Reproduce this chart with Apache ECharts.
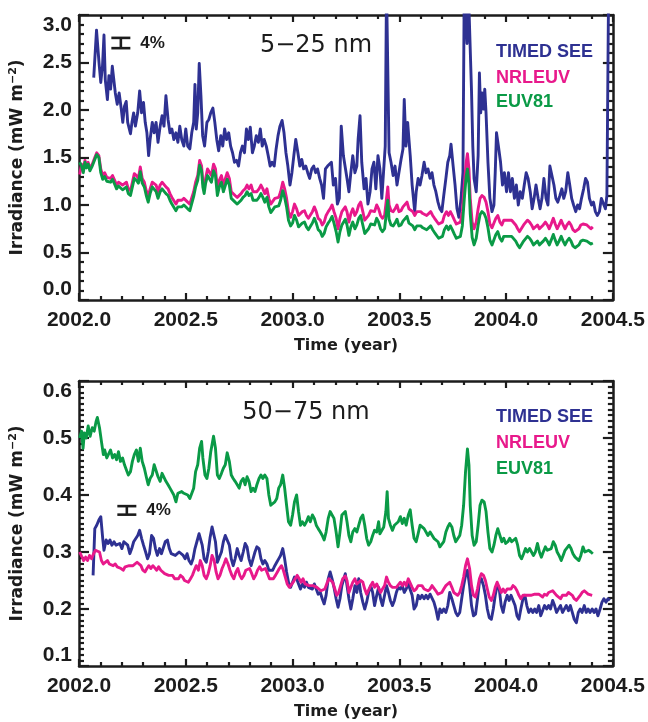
<!DOCTYPE html>
<html><head><meta charset="utf-8">
<script src="https://cdn.jsdelivr.net/npm/echarts@6/dist/echarts.min.js"></script>
<style>html,body{margin:0;padding:0;background:#fff}#chart{width:648px;height:722px}</style>
</head><body><div id="chart"></div>
<script>
// ---------------- DATA ----------------
const yearRange = [2002.0, 2004.5];
const yearStep = 0.5;
const topRange = [0.0, 3.0], topStep = 0.5;
const bottomRange = [0.1, 0.6], bottomStep = 0.1;
const seriesNames = ['TIMED SEE', 'NRLEUV', 'EUV81'];
const panelTitles = ['5\u221225 nm', '50\u221275 nm'];

// Top panel (5-25 nm): [year, irradiance]
const timedSeeTop = [
[2002.069,2.34],[2002.082,2.84],[2002.094,2.49],[2002.102,2.29],[2002.110,2.46],[2002.117,2.79],[2002.123,2.32],[2002.133,2.11],[2002.140,2.36],[2002.148,2.22],
[2002.156,2.46],[2002.164,2.48],[2002.170,2.18],[2002.179,2.06],[2002.188,2.18],[2002.198,2.01],[2002.205,1.87],[2002.213,2.04],[2002.221,2.09],[2002.228,1.87],
[2002.241,1.75],[2002.248,1.87],[2002.256,1.97],[2002.264,1.83],[2002.275,1.97],[2002.284,2.20],[2002.293,1.97],[2002.302,2.08],[2002.310,1.87],[2002.318,1.76],
[2002.326,1.52],[2002.333,1.69],[2002.343,1.87],[2002.352,1.76],[2002.361,1.87],[2002.370,1.66],[2002.380,1.83],[2002.389,1.94],[2002.398,1.83],[2002.407,2.15],
[2002.417,1.90],[2002.426,1.76],[2002.435,1.80],[2002.444,1.69],[2002.454,1.76],[2002.463,1.66],[2002.472,1.83],[2002.481,1.69],[2002.491,1.62],[2002.500,1.80],
[2002.509,1.62],[2002.519,1.59],[2002.528,1.76],[2002.537,1.87],[2002.543,2.27],[2002.549,1.80],[2002.556,1.97],[2002.563,2.49],[2002.571,2.15],[2002.579,1.73],
[2002.588,1.62],[2002.599,1.87],[2002.608,1.90],[2002.617,1.97],[2002.627,2.02],[2002.636,1.87],[2002.645,1.69],[2002.654,1.57],[2002.664,1.73],[2002.673,1.62],
[2002.682,1.80],[2002.691,1.69],[2002.701,1.76],[2002.710,1.62],[2002.719,1.55],[2002.728,1.45],[2002.738,1.47],[2002.747,1.41],[2002.756,1.55],[2002.765,1.62],
[2002.775,1.55],[2002.784,1.80],[2002.793,1.69],[2002.802,1.82],[2002.812,1.55],[2002.821,1.62],[2002.830,1.73],[2002.840,1.66],[2002.849,1.80],[2002.858,1.62],
[2002.867,1.69],[2002.877,1.62],[2002.886,1.52],[2002.895,1.41],[2002.904,1.45],[2002.914,1.41],[2002.923,1.59],[2002.932,1.73],[2002.941,1.83],[2002.951,1.89],
[2002.960,1.76],[2002.969,1.55],[2002.978,1.41],[2002.988,1.21],[2002.997,1.34],[2003.006,1.52],[2003.015,1.69],[2003.025,1.55],[2003.034,1.41],[2003.043,1.48],
[2003.052,1.38],[2003.062,1.41],[2003.071,1.34],[2003.080,1.28],[2003.090,1.38],[2003.099,1.41],[2003.108,1.34],[2003.117,1.38],[2003.127,1.28],[2003.136,1.21],
[2003.145,1.07],[2003.154,1.38],[2003.164,1.41],[2003.173,1.41],[2003.182,1.45],[2003.191,1.21],[2003.201,1.28],[2003.210,1.01],[2003.219,1.07],[2003.228,1.83],
[2003.238,1.52],[2003.247,1.52],[2003.255,1.28],[2003.264,1.14],[2003.273,1.34],[2003.282,1.52],[2003.292,1.34],[2003.301,1.41],[2003.307,1.69],[2003.316,1.94],
[2003.324,1.45],[2003.335,1.17],[2003.344,1.28],[2003.353,1.01],[2003.363,1.14],[2003.372,1.38],[2003.381,1.45],[2003.390,1.17],[2003.400,1.52],[2003.409,1.38],
[2003.418,1.07],[2003.427,1.07],[2003.434,1.62],[2003.440,3.30],[2003.446,3.30],[2003.452,1.55],[2003.461,1.45],[2003.471,1.31],[2003.480,1.41],[2003.489,1.21],
[2003.498,1.34],[2003.508,1.48],[2003.517,1.59],[2003.523,2.11],[2003.531,1.62],[2003.539,1.87],[2003.545,1.69],[2003.551,1.52],[2003.560,1.21],[2003.572,0.93],
[2003.579,1.14],[2003.588,1.28],[2003.597,1.21],[2003.606,1.31],[2003.616,1.45],[2003.625,1.34],[2003.634,1.38],[2003.644,1.28],[2003.653,1.34],[2003.662,1.21],
[2003.671,1.14],[2003.681,1.03],[2003.690,0.96],[2003.699,0.93],[2003.708,1.10],[2003.718,1.28],[2003.727,1.45],[2003.736,1.52],[2003.742,1.64],[2003.752,1.41],
[2003.761,1.21],[2003.770,0.96],[2003.779,0.87],[2003.789,1.07],[2003.798,1.34],[2003.804,3.30],[2003.812,3.30],[2003.817,2.70],[2003.823,3.30],[2003.830,3.30],
[2003.838,2.20],[2003.844,1.62],[2003.850,1.28],[2003.860,1.14],[2003.869,1.52],[2003.875,2.39],[2003.881,1.97],[2003.887,2.18],[2003.894,2.01],[2003.900,2.22],
[2003.906,1.97],[2003.915,1.45],[2003.924,1.07],[2003.934,0.93],[2003.943,1.00],[2003.949,1.34],[2003.955,1.76],[2003.964,1.62],[2003.974,1.45],[2003.983,1.21],
[2003.992,1.34],[2004.002,1.14],[2004.011,1.34],[2004.020,1.14],[2004.029,1.28],[2004.039,1.07],[2004.048,1.21],[2004.057,1.00],[2004.066,1.14],[2004.076,1.07],
[2004.085,1.21],[2004.094,1.34],[2004.103,1.28],[2004.113,1.14],[2004.122,0.96],[2004.131,1.07],[2004.140,1.21],[2004.150,1.07],[2004.159,0.96],[2004.168,1.07],
[2004.177,1.28],[2004.187,1.07],[2004.196,1.00],[2004.205,1.41],[2004.214,1.43],[2004.224,1.21],[2004.233,1.07],[2004.242,1.03],[2004.252,1.10],[2004.261,1.17],
[2004.270,1.07],[2004.279,1.14],[2004.289,1.34],[2004.298,1.21],[2004.307,1.07],[2004.316,1.00],[2004.326,0.93],[2004.335,1.00],[2004.344,0.96],[2004.353,1.07],
[2004.363,1.17],[2004.372,1.28],[2004.381,1.24],[2004.390,1.07],[2004.400,1.00],[2004.409,1.03],[2004.418,0.93],[2004.427,0.89],[2004.437,0.93],[2004.446,1.07],
[2004.455,1.08],[2004.465,0.96],[2004.472,1.10],[2004.480,3.30]
];
const nrleuvTop = [
[2002.003,1.32],[2002.012,1.43],[2002.020,1.36],[2002.028,1.47],[2002.035,1.41],[2002.043,1.45],[2002.051,1.38],[2002.062,1.43],[2002.074,1.50],[2002.083,1.55],
[2002.093,1.52],[2002.102,1.38],[2002.111,1.31],[2002.120,1.34],[2002.130,1.29],[2002.139,1.31],[2002.148,1.28],[2002.157,1.31],[2002.167,1.26],[2002.176,1.21],
[2002.185,1.24],[2002.194,1.26],[2002.204,1.21],[2002.213,1.22],[2002.222,1.24],[2002.231,1.17],[2002.241,1.15],[2002.250,1.24],[2002.259,1.33],[2002.269,1.31],
[2002.278,1.28],[2002.287,1.40],[2002.296,1.28],[2002.306,1.24],[2002.315,1.15],[2002.324,1.08],[2002.333,1.17],[2002.343,1.24],[2002.352,1.26],[2002.361,1.21],
[2002.370,1.14],[2002.380,1.21],[2002.389,1.24],[2002.398,1.22],[2002.407,1.19],[2002.417,1.17],[2002.426,1.12],[2002.435,1.08],[2002.444,1.07],[2002.454,1.01],
[2002.463,1.05],[2002.472,1.07],[2002.481,1.05],[2002.491,1.07],[2002.500,1.05],[2002.509,1.03],[2002.519,1.01],[2002.528,1.01],[2002.537,1.14],[2002.546,1.24],
[2002.556,1.31],[2002.565,1.47],[2002.574,1.41],[2002.580,1.24],[2002.586,1.17],[2002.593,1.28],[2002.602,1.38],[2002.611,1.36],[2002.620,1.31],[2002.630,1.43],
[2002.639,1.38],[2002.648,1.17],[2002.657,1.26],[2002.667,1.31],[2002.676,1.21],[2002.685,1.21],[2002.694,1.34],[2002.704,1.28],[2002.713,1.14],[2002.722,1.12],
[2002.731,1.10],[2002.741,1.08],[2002.750,1.07],[2002.759,1.12],[2002.768,1.15],[2002.778,1.17],[2002.787,1.21],[2002.796,1.17],[2002.806,1.21],[2002.815,1.14],
[2002.824,1.12],[2002.833,1.14],[2002.843,1.17],[2002.852,1.21],[2002.861,1.17],[2002.870,1.12],[2002.880,1.17],[2002.889,1.07],[2002.898,1.01],[2002.907,1.03],
[2002.917,1.07],[2002.926,1.05],[2002.935,1.08],[2002.944,1.14],[2002.954,1.24],[2002.963,1.17],[2002.972,1.07],[2002.981,0.93],[2002.991,0.87],[2003.000,0.93],
[2003.009,1.01],[2003.019,0.96],[2003.028,0.89],[2003.037,0.91],[2003.046,0.93],[2003.056,0.94],[2003.065,0.89],[2003.074,0.86],[2003.083,0.87],[2003.093,0.93],
[2003.102,0.98],[2003.111,0.93],[2003.120,0.86],[2003.130,0.84],[2003.139,0.79],[2003.148,0.82],[2003.157,0.89],[2003.167,0.93],[2003.176,0.96],[2003.185,1.00],
[2003.194,0.93],[2003.204,0.86],[2003.213,0.75],[2003.222,0.86],[2003.231,0.93],[2003.247,0.98],[2003.255,0.93],[2003.264,0.82],[2003.273,0.91],[2003.282,0.96],
[2003.292,0.89],[2003.301,0.93],[2003.310,1.00],[2003.319,1.03],[2003.329,0.93],[2003.338,0.84],[2003.347,0.82],[2003.356,0.89],[2003.366,0.94],[2003.375,0.96],
[2003.384,0.93],[2003.394,1.00],[2003.403,0.96],[2003.412,0.89],[2003.421,0.86],[2003.431,0.89],[2003.440,1.07],[2003.446,1.19],[2003.452,1.00],[2003.461,0.94],
[2003.471,0.93],[2003.480,0.96],[2003.489,1.00],[2003.498,0.93],[2003.508,0.94],[2003.517,0.98],[2003.526,1.00],[2003.536,1.03],[2003.545,0.96],[2003.554,0.98],
[2003.563,0.93],[2003.572,0.89],[2003.582,0.93],[2003.591,0.94],[2003.600,0.93],[2003.610,0.91],[2003.619,0.93],[2003.628,0.89],[2003.637,0.87],[2003.647,0.93],
[2003.656,0.89],[2003.665,0.86],[2003.674,0.84],[2003.684,0.80],[2003.693,0.79],[2003.702,0.82],[2003.711,0.89],[2003.721,0.93],[2003.730,0.89],[2003.739,0.93],
[2003.748,0.89],[2003.758,0.84],[2003.767,0.80],[2003.776,0.79],[2003.786,0.82],[2003.795,0.93],[2003.804,1.21],[2003.813,1.45],[2003.819,1.54],[2003.826,1.38],
[2003.832,1.07],[2003.841,0.82],[2003.850,0.75],[2003.860,0.82],[2003.869,0.96],[2003.878,1.07],[2003.887,1.10],[2003.897,1.08],[2003.906,1.03],[2003.915,0.93],
[2003.924,0.80],[2003.934,0.76],[2003.943,0.77],[2003.952,0.86],[2003.961,0.89],[2003.971,0.82],[2003.980,0.79],[2003.989,0.84],[2003.998,0.82],[2004.008,0.84],
[2004.017,0.82],[2004.026,0.84],[2004.035,0.82],[2004.045,0.79],[2004.054,0.75],[2004.063,0.72],[2004.072,0.74],[2004.082,0.79],[2004.091,0.80],[2004.100,0.84],
[2004.110,0.82],[2004.119,0.79],[2004.128,0.75],[2004.137,0.77],[2004.147,0.79],[2004.156,0.75],[2004.165,0.74],[2004.174,0.79],[2004.184,0.82],[2004.193,0.79],
[2004.202,0.75],[2004.211,0.80],[2004.221,0.86],[2004.230,0.80],[2004.239,0.75],[2004.248,0.79],[2004.258,0.84],[2004.267,0.79],[2004.276,0.75],[2004.285,0.79],
[2004.295,0.82],[2004.304,0.79],[2004.313,0.74],[2004.323,0.72],[2004.332,0.70],[2004.341,0.75],[2004.350,0.79],[2004.360,0.80],[2004.369,0.82],[2004.378,0.79],
[2004.387,0.77],[2004.397,0.75],[2004.406,0.77]
];
const euv81Top = [
[2002.003,1.45],[2002.012,1.41],[2002.020,1.34],[2002.028,1.45],[2002.035,1.39],[2002.043,1.43],[2002.051,1.36],[2002.062,1.41],[2002.074,1.48],[2002.083,1.53],
[2002.093,1.50],[2002.102,1.34],[2002.111,1.27],[2002.120,1.30],[2002.130,1.25],[2002.139,1.27],[2002.148,1.24],[2002.157,1.27],[2002.167,1.22],[2002.176,1.17],
[2002.185,1.20],[2002.194,1.22],[2002.204,1.16],[2002.213,1.17],[2002.222,1.19],[2002.231,1.12],[2002.241,1.10],[2002.250,1.19],[2002.259,1.28],[2002.269,1.26],
[2002.278,1.23],[2002.287,1.35],[2002.296,1.23],[2002.306,1.19],[2002.315,1.10],[2002.324,1.03],[2002.333,1.12],[2002.343,1.19],[2002.352,1.19],[2002.361,1.14],
[2002.370,1.07],[2002.380,1.14],[2002.389,1.17],[2002.398,1.15],[2002.407,1.12],[2002.417,1.10],[2002.426,1.05],[2002.435,1.01],[2002.444,1.00],[2002.454,0.94],
[2002.463,0.98],[2002.472,1.00],[2002.481,0.98],[2002.491,1.00],[2002.500,0.98],[2002.509,0.96],[2002.519,0.94],[2002.528,0.94],[2002.537,1.09],[2002.546,1.19],
[2002.556,1.26],[2002.565,1.42],[2002.574,1.36],[2002.580,1.19],[2002.586,1.12],[2002.593,1.23],[2002.602,1.31],[2002.611,1.29],[2002.620,1.24],[2002.630,1.36],
[2002.639,1.31],[2002.648,1.10],[2002.657,1.19],[2002.667,1.24],[2002.676,1.14],[2002.685,1.14],[2002.694,1.27],[2002.704,1.21],[2002.713,1.07],[2002.722,1.05],
[2002.731,1.03],[2002.741,1.01],[2002.750,1.00],[2002.759,1.05],[2002.768,1.08],[2002.778,1.10],[2002.787,1.14],[2002.796,1.10],[2002.806,1.12],[2002.815,1.05],
[2002.824,1.03],[2002.833,1.05],[2002.843,1.08],[2002.852,1.12],[2002.861,1.08],[2002.870,1.03],[2002.880,1.08],[2002.889,0.98],[2002.898,0.92],[2002.907,0.94],
[2002.917,0.98],[2002.926,0.96],[2002.935,0.99],[2002.944,1.05],[2002.954,1.15],[2002.963,1.08],[2002.972,0.98],[2002.981,0.84],[2002.991,0.78],[2003.000,0.81],
[2003.009,0.89],[2003.019,0.84],[2003.028,0.77],[2003.037,0.79],[2003.046,0.81],[2003.056,0.82],[2003.065,0.77],[2003.074,0.74],[2003.083,0.75],[2003.093,0.81],
[2003.102,0.86],[2003.111,0.81],[2003.120,0.74],[2003.130,0.72],[2003.139,0.67],[2003.148,0.70],[2003.157,0.77],[2003.167,0.81],[2003.176,0.84],[2003.185,0.88],
[2003.194,0.81],[2003.204,0.72],[2003.213,0.61],[2003.222,0.72],[2003.231,0.79],[2003.247,0.85],[2003.255,0.79],[2003.264,0.68],[2003.273,0.77],[2003.282,0.82],
[2003.292,0.75],[2003.301,0.79],[2003.310,0.86],[2003.319,0.89],[2003.329,0.79],[2003.338,0.70],[2003.347,0.68],[2003.356,0.75],[2003.366,0.80],[2003.375,0.82],
[2003.384,0.79],[2003.394,0.86],[2003.403,0.82],[2003.412,0.75],[2003.421,0.72],[2003.431,0.75],[2003.440,0.93],[2003.446,1.05],[2003.452,0.85],[2003.461,0.79],
[2003.471,0.78],[2003.480,0.81],[2003.489,0.85],[2003.498,0.78],[2003.508,0.79],[2003.517,0.83],[2003.526,0.85],[2003.536,0.88],[2003.545,0.81],[2003.554,0.83],
[2003.563,0.78],[2003.572,0.74],[2003.582,0.78],[2003.591,0.79],[2003.600,0.78],[2003.610,0.76],[2003.619,0.78],[2003.628,0.74],[2003.637,0.72],[2003.647,0.78],
[2003.656,0.74],[2003.665,0.71],[2003.674,0.69],[2003.684,0.65],[2003.693,0.64],[2003.702,0.67],[2003.711,0.74],[2003.721,0.78],[2003.730,0.74],[2003.739,0.78],
[2003.748,0.74],[2003.758,0.69],[2003.767,0.65],[2003.776,0.64],[2003.786,0.67],[2003.795,0.78],[2003.804,1.06],[2003.813,1.30],[2003.819,1.38],[2003.826,1.22],
[2003.832,0.91],[2003.841,0.66],[2003.850,0.58],[2003.860,0.65],[2003.869,0.79],[2003.878,0.90],[2003.887,0.93],[2003.897,0.91],[2003.906,0.86],[2003.915,0.76],
[2003.924,0.63],[2003.934,0.58],[2003.943,0.60],[2003.952,0.69],[2003.961,0.72],[2003.971,0.65],[2003.980,0.62],[2003.989,0.67],[2003.998,0.65],[2004.008,0.67],
[2004.017,0.65],[2004.026,0.67],[2004.035,0.65],[2004.045,0.62],[2004.054,0.58],[2004.063,0.55],[2004.072,0.57],[2004.082,0.62],[2004.091,0.63],[2004.100,0.67],
[2004.110,0.65],[2004.119,0.62],[2004.128,0.58],[2004.137,0.60],[2004.147,0.62],[2004.156,0.58],[2004.165,0.57],[2004.174,0.62],[2004.184,0.65],[2004.193,0.62],
[2004.202,0.58],[2004.211,0.63],[2004.221,0.69],[2004.230,0.63],[2004.239,0.58],[2004.248,0.62],[2004.258,0.67],[2004.267,0.62],[2004.276,0.58],[2004.285,0.62],
[2004.295,0.65],[2004.304,0.62],[2004.313,0.57],[2004.323,0.55],[2004.332,0.53],[2004.341,0.58],[2004.350,0.62],[2004.360,0.63],[2004.369,0.65],[2004.378,0.62],
[2004.387,0.60],[2004.397,0.59],[2004.406,0.60]
];

// Bottom panel (50-75 nm): [year, irradiance]
const timedSeeBottom = [
[2002.066,0.259],[2002.074,0.341],[2002.083,0.347],[2002.093,0.356],[2002.102,0.362],[2002.111,0.324],[2002.117,0.303],[2002.127,0.321],[2002.136,0.315],[2002.145,0.321],
[2002.154,0.312],[2002.164,0.318],[2002.173,0.312],[2002.182,0.309],[2002.191,0.315],[2002.201,0.306],[2002.210,0.318],[2002.219,0.321],[2002.228,0.312],[2002.238,0.297],
[2002.247,0.306],[2002.256,0.318],[2002.265,0.321],[2002.275,0.329],[2002.284,0.338],[2002.293,0.324],[2002.302,0.312],[2002.312,0.300],[2002.321,0.288],[2002.330,0.297],
[2002.340,0.329],[2002.349,0.324],[2002.358,0.306],[2002.367,0.294],[2002.377,0.306],[2002.386,0.297],[2002.395,0.300],[2002.404,0.318],[2002.414,0.321],[2002.423,0.306],
[2002.432,0.297],[2002.441,0.300],[2002.451,0.294],[2002.460,0.297],[2002.469,0.300],[2002.478,0.297],[2002.488,0.294],[2002.497,0.288],[2002.506,0.297],[2002.515,0.285],
[2002.525,0.279],[2002.534,0.288],[2002.543,0.306],[2002.552,0.318],[2002.562,0.332],[2002.571,0.335],[2002.577,0.312],[2002.586,0.288],[2002.596,0.282],[2002.605,0.300],
[2002.614,0.326],[2002.623,0.344],[2002.630,0.347],[2002.639,0.318],[2002.648,0.282],[2002.657,0.279],[2002.667,0.300],[2002.676,0.318],[2002.685,0.329],[2002.694,0.332],
[2002.704,0.312],[2002.713,0.288],[2002.722,0.276],[2002.731,0.288],[2002.741,0.306],[2002.750,0.294],[2002.759,0.285],[2002.769,0.300],[2002.778,0.315],[2002.787,0.309],
[2002.796,0.288],[2002.806,0.276],[2002.815,0.288],[2002.824,0.300],[2002.833,0.309],[2002.843,0.306],[2002.852,0.288],[2002.861,0.279],[2002.870,0.285],[2002.880,0.279],
[2002.889,0.268],[2002.898,0.265],[2002.907,0.268],[2002.917,0.276],[2002.926,0.282],[2002.935,0.288],[2002.944,0.294],[2002.954,0.306],[2002.963,0.288],[2002.972,0.265],
[2002.981,0.247],[2002.991,0.238],[2003.000,0.247],[2003.009,0.256],[2003.019,0.253],[2003.028,0.244],[2003.037,0.235],[2003.046,0.244],[2003.056,0.238],[2003.065,0.247],
[2003.074,0.238],[2003.083,0.241],[2003.093,0.235],[2003.102,0.244],[2003.111,0.235],[2003.120,0.226],[2003.130,0.229],[2003.139,0.218],[2003.148,0.209],[2003.157,0.224],
[2003.167,0.253],[2003.176,0.265],[2003.185,0.253],[2003.194,0.238],[2003.204,0.218],[2003.213,0.203],[2003.222,0.218],[2003.231,0.241],[2003.247,0.262],[2003.255,0.241],
[2003.264,0.218],[2003.273,0.200],[2003.282,0.218],[2003.292,0.241],[2003.301,0.229],[2003.310,0.253],[2003.319,0.229],[2003.329,0.212],[2003.338,0.200],[2003.347,0.212],
[2003.356,0.229],[2003.366,0.241],[2003.375,0.229],[2003.384,0.206],[2003.394,0.224],[2003.403,0.238],[2003.412,0.218],[2003.421,0.206],[2003.431,0.224],[2003.440,0.241],
[2003.449,0.229],[2003.458,0.215],[2003.468,0.206],[2003.477,0.215],[2003.486,0.229],[2003.495,0.238],[2003.505,0.235],[2003.514,0.241],[2003.523,0.229],[2003.532,0.235],
[2003.542,0.244],[2003.551,0.241],[2003.560,0.224],[2003.569,0.200],[2003.579,0.206],[2003.588,0.224],[2003.597,0.218],[2003.606,0.224],[2003.616,0.218],[2003.625,0.224],
[2003.634,0.218],[2003.644,0.226],[2003.653,0.229],[2003.662,0.212],[2003.671,0.200],[2003.681,0.182],[2003.690,0.200],[2003.699,0.194],[2003.708,0.200],[2003.718,0.194],
[2003.727,0.206],[2003.736,0.229],[2003.746,0.218],[2003.755,0.206],[2003.764,0.194],[2003.773,0.188],[2003.783,0.194],[2003.792,0.218],[2003.801,0.241],[2003.810,0.259],
[2003.819,0.268],[2003.829,0.241],[2003.838,0.206],[2003.847,0.188],[2003.857,0.191],[2003.866,0.218],[2003.875,0.247],[2003.884,0.253],[2003.894,0.241],[2003.903,0.224],
[2003.912,0.200],[2003.921,0.185],[2003.931,0.182],[2003.940,0.200],[2003.949,0.224],[2003.958,0.241],[2003.968,0.235],[2003.977,0.206],[2003.986,0.194],[2003.995,0.212],
[2004.005,0.224],[2004.014,0.215],[2004.023,0.224],[2004.032,0.224],[2004.042,0.206],[2004.051,0.188],[2004.060,0.182],[2004.069,0.200],[2004.079,0.218],[2004.088,0.224],
[2004.097,0.206],[2004.106,0.194],[2004.116,0.200],[2004.125,0.194],[2004.134,0.200],[2004.143,0.194],[2004.153,0.206],[2004.162,0.188],[2004.171,0.185],[2004.180,0.206],
[2004.190,0.200],[2004.199,0.206],[2004.208,0.200],[2004.218,0.215],[2004.227,0.206],[2004.236,0.194],[2004.245,0.200],[2004.255,0.206],[2004.264,0.194],[2004.273,0.200],
[2004.282,0.206],[2004.292,0.197],[2004.301,0.206],[2004.310,0.194],[2004.319,0.182],[2004.329,0.176],[2004.338,0.194],[2004.347,0.200],[2004.356,0.194],[2004.366,0.206],
[2004.375,0.194],[2004.384,0.200],[2004.393,0.194],[2004.403,0.200],[2004.412,0.194],[2004.421,0.200],[2004.430,0.188],[2004.440,0.200],[2004.449,0.212],[2004.458,0.218],
[2004.468,0.212],[2004.477,0.218],[2004.486,0.215]
];
const nrleuvBottom = [
[2002.003,0.300],[2002.012,0.297],[2002.022,0.285],[2002.031,0.291],[2002.040,0.285],[2002.049,0.294],[2002.059,0.288],[2002.068,0.297],[2002.077,0.303],[2002.086,0.306],
[2002.096,0.300],[2002.105,0.285],[2002.114,0.279],[2002.123,0.282],[2002.133,0.285],[2002.142,0.279],[2002.151,0.282],[2002.160,0.276],[2002.170,0.279],[2002.179,0.274],
[2002.188,0.276],[2002.197,0.271],[2002.207,0.268],[2002.216,0.274],[2002.225,0.271],[2002.235,0.276],[2002.244,0.279],[2002.253,0.276],[2002.262,0.279],[2002.272,0.282],
[2002.281,0.285],[2002.290,0.276],[2002.299,0.268],[2002.309,0.265],[2002.318,0.271],[2002.327,0.276],[2002.336,0.271],[2002.346,0.276],[2002.355,0.274],[2002.364,0.268],
[2002.373,0.274],[2002.383,0.268],[2002.392,0.265],[2002.401,0.262],[2002.410,0.265],[2002.420,0.259],[2002.429,0.256],[2002.438,0.259],[2002.448,0.253],[2002.457,0.256],
[2002.466,0.253],[2002.475,0.259],[2002.485,0.256],[2002.494,0.250],[2002.503,0.253],[2002.512,0.247],[2002.522,0.253],[2002.531,0.259],[2002.540,0.268],[2002.549,0.276],
[2002.559,0.268],[2002.568,0.285],[2002.577,0.276],[2002.586,0.259],[2002.596,0.253],[2002.605,0.262],[2002.614,0.276],[2002.623,0.294],[2002.633,0.285],[2002.642,0.265],
[2002.651,0.253],[2002.660,0.259],[2002.670,0.271],[2002.679,0.279],[2002.688,0.288],[2002.698,0.279],[2002.707,0.268],[2002.716,0.259],[2002.725,0.253],[2002.735,0.265],
[2002.744,0.271],[2002.753,0.259],[2002.762,0.253],[2002.772,0.259],[2002.781,0.268],[2002.790,0.265],[2002.799,0.271],[2002.809,0.262],[2002.818,0.253],[2002.827,0.259],
[2002.836,0.268],[2002.846,0.274],[2002.855,0.268],[2002.864,0.265],[2002.873,0.271],[2002.883,0.262],[2002.892,0.253],[2002.901,0.250],[2002.910,0.253],[2002.920,0.259],
[2002.929,0.265],[2002.938,0.271],[2002.948,0.276],[2002.957,0.268],[2002.966,0.256],[2002.975,0.244],[2002.985,0.238],[2002.994,0.241],[2003.003,0.247],[2003.012,0.253],
[2003.022,0.259],[2003.031,0.253],[2003.040,0.247],[2003.049,0.253],[2003.059,0.244],[2003.068,0.247],[2003.077,0.241],[2003.086,0.244],[2003.096,0.241],[2003.105,0.244],
[2003.114,0.238],[2003.123,0.235],[2003.133,0.232],[2003.142,0.229],[2003.151,0.235],[2003.160,0.244],[2003.170,0.253],[2003.179,0.256],[2003.188,0.247],[2003.198,0.235],
[2003.207,0.224],[2003.216,0.229],[2003.225,0.241],[2003.235,0.253],[2003.247,0.258],[2003.255,0.250],[2003.264,0.229],[2003.273,0.238],[2003.282,0.247],[2003.292,0.253],
[2003.301,0.244],[2003.310,0.241],[2003.319,0.250],[2003.329,0.247],[2003.338,0.235],[2003.347,0.226],[2003.356,0.229],[2003.366,0.241],[2003.375,0.247],[2003.384,0.238],
[2003.394,0.244],[2003.403,0.241],[2003.412,0.229],[2003.421,0.235],[2003.431,0.241],[2003.440,0.256],[2003.449,0.247],[2003.458,0.241],[2003.468,0.238],[2003.477,0.241],
[2003.486,0.238],[2003.495,0.235],[2003.505,0.247],[2003.514,0.241],[2003.523,0.247],[2003.532,0.241],[2003.542,0.253],[2003.551,0.250],[2003.560,0.238],[2003.569,0.232],
[2003.579,0.235],[2003.588,0.241],[2003.597,0.238],[2003.606,0.241],[2003.616,0.235],[2003.625,0.238],[2003.634,0.232],[2003.644,0.235],[2003.653,0.241],[2003.662,0.238],
[2003.671,0.232],[2003.681,0.226],[2003.690,0.226],[2003.699,0.229],[2003.708,0.235],[2003.718,0.241],[2003.727,0.244],[2003.736,0.247],[2003.746,0.238],[2003.755,0.229],
[2003.764,0.226],[2003.773,0.224],[2003.783,0.229],[2003.792,0.241],[2003.801,0.256],[2003.810,0.276],[2003.819,0.288],[2003.829,0.271],[2003.838,0.241],[2003.847,0.224],
[2003.857,0.221],[2003.866,0.235],[2003.875,0.253],[2003.884,0.262],[2003.894,0.259],[2003.903,0.250],[2003.912,0.235],[2003.921,0.221],[2003.931,0.215],[2003.940,0.224],
[2003.949,0.238],[2003.958,0.247],[2003.968,0.238],[2003.977,0.229],[2003.986,0.235],[2003.995,0.229],[2004.005,0.235],[2004.014,0.238],[2004.023,0.235],[2004.032,0.241],
[2004.042,0.238],[2004.051,0.232],[2004.060,0.224],[2004.069,0.218],[2004.079,0.224],[2004.088,0.226],[2004.097,0.224],[2004.106,0.226],[2004.116,0.224],[2004.125,0.221],
[2004.134,0.226],[2004.143,0.224],[2004.153,0.226],[2004.162,0.224],[2004.171,0.221],[2004.180,0.226],[2004.190,0.224],[2004.199,0.229],[2004.208,0.226],[2004.218,0.232],
[2004.227,0.229],[2004.236,0.224],[2004.245,0.221],[2004.255,0.218],[2004.264,0.224],[2004.273,0.226],[2004.282,0.224],[2004.292,0.229],[2004.301,0.226],[2004.310,0.224],
[2004.319,0.218],[2004.329,0.215],[2004.338,0.218],[2004.347,0.224],[2004.356,0.229],[2004.366,0.232],[2004.375,0.229],[2004.384,0.226],[2004.393,0.226],[2004.403,0.224]
];
const euv81Bottom = [
[2002.003,0.500],[2002.012,0.512],[2002.019,0.482],[2002.025,0.509],[2002.034,0.500],[2002.043,0.521],[2002.052,0.503],[2002.062,0.518],[2002.071,0.512],[2002.080,0.529],
[2002.086,0.536],[2002.096,0.518],[2002.105,0.494],[2002.114,0.471],[2002.120,0.479],[2002.130,0.465],[2002.139,0.468],[2002.148,0.479],[2002.157,0.465],[2002.167,0.471],
[2002.176,0.462],[2002.185,0.476],[2002.194,0.459],[2002.204,0.465],[2002.213,0.453],[2002.222,0.444],[2002.231,0.435],[2002.241,0.441],[2002.250,0.459],[2002.259,0.471],
[2002.269,0.479],[2002.278,0.459],[2002.287,0.482],[2002.296,0.459],[2002.306,0.447],[2002.315,0.432],[2002.324,0.418],[2002.333,0.429],[2002.343,0.435],[2002.352,0.453],
[2002.361,0.450],[2002.370,0.432],[2002.380,0.424],[2002.389,0.438],[2002.398,0.435],[2002.407,0.424],[2002.417,0.418],[2002.426,0.412],[2002.435,0.409],[2002.444,0.400],
[2002.454,0.388],[2002.463,0.403],[2002.472,0.400],[2002.481,0.406],[2002.491,0.403],[2002.500,0.406],[2002.509,0.400],[2002.519,0.394],[2002.528,0.397],[2002.537,0.412],
[2002.546,0.441],[2002.556,0.453],[2002.565,0.482],[2002.574,0.494],[2002.580,0.465],[2002.590,0.435],[2002.599,0.429],[2002.608,0.447],[2002.617,0.476],[2002.630,0.503],
[2002.639,0.482],[2002.648,0.435],[2002.657,0.429],[2002.667,0.438],[2002.676,0.447],[2002.685,0.453],[2002.694,0.474],[2002.704,0.459],[2002.713,0.435],[2002.722,0.429],
[2002.731,0.424],[2002.741,0.418],[2002.750,0.412],[2002.759,0.424],[2002.769,0.429],[2002.778,0.418],[2002.787,0.432],[2002.796,0.424],[2002.806,0.406],[2002.815,0.412],
[2002.824,0.406],[2002.833,0.418],[2002.843,0.429],[2002.852,0.435],[2002.861,0.429],[2002.870,0.435],[2002.880,0.429],[2002.889,0.400],[2002.898,0.382],[2002.907,0.385],
[2002.917,0.388],[2002.926,0.394],[2002.935,0.412],[2002.944,0.418],[2002.954,0.435],[2002.963,0.412],[2002.972,0.382],[2002.981,0.353],[2002.991,0.347],[2003.000,0.365],
[2003.009,0.388],[2003.019,0.400],[2003.028,0.371],[2003.037,0.347],[2003.046,0.353],[2003.056,0.347],[2003.065,0.353],[2003.074,0.362],[2003.083,0.353],[2003.093,0.365],
[2003.102,0.359],[2003.111,0.347],[2003.120,0.341],[2003.130,0.335],[2003.139,0.329],[2003.148,0.321],[2003.157,0.335],[2003.167,0.359],[2003.176,0.371],[2003.185,0.365],
[2003.194,0.359],[2003.204,0.335],[2003.213,0.309],[2003.222,0.335],[2003.231,0.365],[2003.247,0.371],[2003.255,0.353],[2003.264,0.329],[2003.273,0.318],[2003.282,0.335],
[2003.292,0.341],[2003.301,0.335],[2003.310,0.347],[2003.319,0.359],[2003.329,0.365],[2003.338,0.347],[2003.347,0.324],[2003.356,0.312],[2003.366,0.318],[2003.375,0.329],
[2003.384,0.338],[2003.394,0.335],[2003.403,0.353],[2003.409,0.332],[2003.418,0.335],[2003.427,0.344],[2003.437,0.371],[2003.443,0.406],[2003.449,0.359],[2003.458,0.347],
[2003.468,0.338],[2003.477,0.347],[2003.486,0.344],[2003.495,0.353],[2003.505,0.362],[2003.514,0.350],[2003.523,0.359],[2003.532,0.347],[2003.542,0.365],[2003.551,0.374],
[2003.560,0.347],[2003.569,0.324],[2003.579,0.318],[2003.588,0.332],[2003.597,0.347],[2003.606,0.350],[2003.616,0.341],[2003.625,0.344],[2003.634,0.329],[2003.644,0.335],
[2003.653,0.332],[2003.662,0.324],[2003.671,0.324],[2003.681,0.318],[2003.690,0.309],[2003.699,0.306],[2003.708,0.318],[2003.718,0.335],[2003.727,0.344],[2003.736,0.350],
[2003.746,0.344],[2003.755,0.329],[2003.764,0.318],[2003.773,0.315],[2003.783,0.329],[2003.792,0.347],[2003.801,0.382],[2003.810,0.441],[2003.819,0.481],[2003.826,0.453],
[2003.832,0.382],[2003.841,0.329],[2003.850,0.312],[2003.860,0.318],[2003.869,0.347],[2003.878,0.382],[2003.887,0.391],[2003.897,0.388],[2003.906,0.371],[2003.915,0.335],
[2003.924,0.306],[2003.934,0.300],[2003.943,0.312],[2003.952,0.329],[2003.961,0.341],[2003.971,0.329],[2003.980,0.318],[2003.989,0.324],[2003.998,0.315],[2004.008,0.318],
[2004.017,0.324],[2004.026,0.318],[2004.035,0.315],[2004.045,0.324],[2004.054,0.312],[2004.063,0.294],[2004.072,0.288],[2004.082,0.297],[2004.091,0.306],[2004.100,0.300],
[2004.110,0.306],[2004.119,0.300],[2004.128,0.294],[2004.137,0.300],[2004.147,0.315],[2004.156,0.300],[2004.165,0.291],[2004.174,0.300],[2004.184,0.309],[2004.193,0.303],
[2004.202,0.300],[2004.211,0.306],[2004.221,0.318],[2004.230,0.312],[2004.239,0.300],[2004.248,0.294],[2004.258,0.285],[2004.267,0.294],[2004.276,0.303],[2004.285,0.300],
[2004.295,0.312],[2004.304,0.306],[2004.313,0.297],[2004.323,0.291],[2004.332,0.288],[2004.341,0.285],[2004.350,0.294],[2004.360,0.309],[2004.369,0.300],[2004.378,0.297],
[2004.387,0.303],[2004.397,0.300],[2004.406,0.297]
];

// 4% uncertainty markers: [year, irradiance, percent]
const errorBarTop = [[2002.196, 2.705, 4]];
const errorBarBottom = [[2002.224, 0.373, 4]];

// ---------------- STYLE ----------------
const INK = '#1c1c1c';
const COLORS = ['#2e3192', '#e8198b', '#0a9a46'];
const TICK_FONT = 'Liberation Sans';
const NAME_FONT = 'DejaVu Sans';

function xAxisPair(g) {
  const common = {
    gridIndex: g, type: 'value', min: yearRange[0], max: yearRange[1], interval: yearStep,
    axisLine: { show: true, onZero: false, lineStyle: { color: INK, width: 2.5 } },
    axisTick: { show: true, inside: true, length: 7, lineStyle: { color: INK, width: 2.2 } },
    minorTick: { show: true, splitNumber: 5, length: 4, lineStyle: { color: INK, width: 2.2 } },
    splitLine: { show: false }, minorSplitLine: { show: false }
  };
  return [
    Object.assign({}, common, {
      position: 'bottom',
      axisLabel: { show: true, margin: 10, formatter: v => v.toFixed(1), color: INK,
        fontFamily: TICK_FONT, fontWeight: 'bold', fontSize: 21 },
      name: 'Time (year)', nameLocation: 'middle', nameGap: 38,
      nameTextStyle: { color: INK, fontFamily: NAME_FONT, fontWeight: 'bold', fontSize: 16 }
    }),
    Object.assign({}, common, { position: 'top', axisLabel: { show: false } })
  ];
}
function yAxisPair(g, range, step, minorSplit) {
  const common = {
    gridIndex: g, type: 'value', min: range[0], max: range[1], interval: step,
    axisLine: { show: true, onZero: false, lineStyle: { color: INK, width: 2.5 } },
    axisTick: { show: true, inside: true, length: 10, lineStyle: { color: INK, width: 2.2 } },
    minorTick: { show: true, splitNumber: minorSplit, length: 5, lineStyle: { color: INK, width: 2.2 } },
    splitLine: { show: false }, minorSplitLine: { show: false }
  };
  return [
    Object.assign({}, common, {
      position: 'left',
      axisLabel: { show: true, margin: 7, formatter: v => v.toFixed(1), color: INK,
        fontFamily: TICK_FONT, fontWeight: 'bold', fontSize: 21,
        verticalAlignMaxLabel: 'top', verticalAlignMinLabel: 'bottom' },
      name: 'Irradiance (mW m{sup|\u22122})', nameLocation: 'middle', nameGap: 52,
      nameTextStyle: { color: INK, fontFamily: NAME_FONT, fontWeight: 'bold', fontSize: 17,
        rich: { sup: { fontFamily: NAME_FONT, fontWeight: 'bold', fontSize: 11, color: INK, verticalAlign: 'top', padding: [0, 0, 8, 0] } } }
    }),
    Object.assign({}, common, { position: 'right', axisLabel: { show: false } })
  ];
}

function lineSeries(name, data, xi, yi, color) {
  return { name, type: 'line', xAxisIndex: xi, yAxisIndex: yi, data,
    showSymbol: false, symbol: 'none', clip: true, animation: false,
    lineStyle: { color, width: 2.9, join: 'round' }, itemStyle: { color } };
}
function errorSeries(data, xi, yi) {
  return {
    type: 'custom', xAxisIndex: xi, yAxisIndex: yi, data, silent: true, animation: false, z: 5,
    renderItem: (params, api) => {
      const x = api.value(0), v = api.value(1), p = api.value(2) / 100;
      const hi = api.coord([x, v * (1 + p / 2)]);
      const lo = api.coord([x, v * (1 - p / 2)]);
      const hw = 9.5;
      const st = { stroke: INK, lineWidth: 2.6 };
      return { type: 'group', children: [
        { type: 'line', shape: { x1: hi[0] - hw, y1: hi[1], x2: hi[0] + hw, y2: hi[1] }, style: st },
        { type: 'line', shape: { x1: lo[0] - hw, y1: lo[1], x2: lo[0] + hw, y2: lo[1] }, style: st },
        { type: 'line', shape: { x1: hi[0], y1: hi[1], x2: lo[0], y2: lo[1] }, style: st },
        { type: 'text', x: hi[0] + hw + 10, y: (hi[1] + lo[1]) / 2,
          style: { text: api.value(2) + '%', fill: INK, font: 'bold 17px "Liberation Sans"', textAlign: 'left', textVerticalAlign: 'middle' } }
      ] };
    }
  };
}

function label(text, x, y, color, font, align) {
  return { type: 'text', x, y, silent: true,
    style: { text, fill: color, font, textAlign: align || 'left', textVerticalAlign: 'middle' } };
}

const chart = echarts.init(document.getElementById('chart'), null, { renderer: 'canvas' });
const xa0 = xAxisPair(0), xa1 = xAxisPair(1);
const ya0 = yAxisPair(0, topRange, topStep, 5), ya1 = yAxisPair(1, bottomRange, bottomStep, 10);

chart.setOption({
  animation: false,
  backgroundColor: '#ffffff',
  grid: [
    { left: 79, right: 35, top: 15, height: 285 },
    { left: 79, right: 35, top: 381, height: 285 }
  ],
  xAxis: [xa0[0], xa0[1], xa1[0], xa1[1]],
  yAxis: [ya0[0], ya0[1], ya1[0], ya1[1]],
  series: [
    lineSeries(seriesNames[0], timedSeeTop, 0, 0, COLORS[0]),
    lineSeries(seriesNames[1], nrleuvTop, 0, 0, COLORS[1]),
    lineSeries(seriesNames[2], euv81Top, 0, 0, COLORS[2]),
    errorSeries(errorBarTop, 0, 0),
    lineSeries(seriesNames[0], timedSeeBottom, 2, 2, COLORS[0]),
    lineSeries(seriesNames[1], nrleuvBottom, 2, 2, COLORS[1]),
    lineSeries(seriesNames[2], euv81Bottom, 2, 2, COLORS[2]),
    errorSeries(errorBarBottom, 2, 2)
  ],
  graphic: [
    label(panelTitles[0], 316, 46, INK, 'normal 24px "DejaVu Sans"', 'center'),
    label(seriesNames[0], 496, 52, COLORS[0], 'bold 18px "Liberation Sans"'),
    label(seriesNames[1], 496, 78, COLORS[1], 'bold 18px "Liberation Sans"'),
    label(seriesNames[2], 496, 102, COLORS[2], 'bold 18px "Liberation Sans"'),
    label(panelTitles[1], 306, 413, INK, 'normal 24px "DejaVu Sans"', 'center'),
    label(seriesNames[0], 496, 417, COLORS[0], 'bold 18px "Liberation Sans"'),
    label(seriesNames[1], 496, 443, COLORS[1], 'bold 18px "Liberation Sans"'),
    label(seriesNames[2], 496, 469, COLORS[2], 'bold 18px "Liberation Sans"')
  ]
});
</script>
</body></html>
